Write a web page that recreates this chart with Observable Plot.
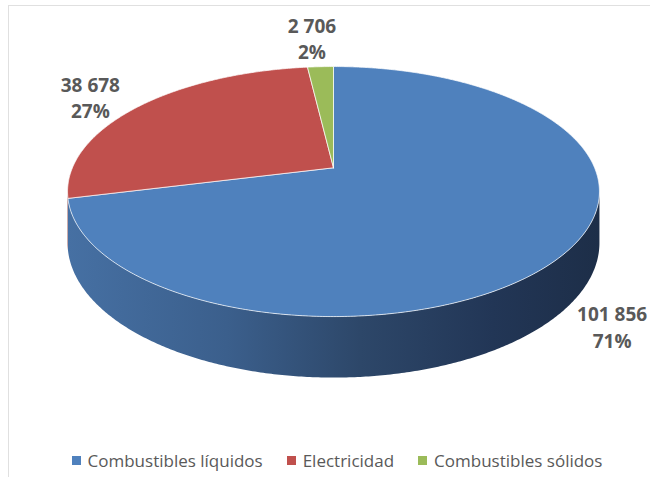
<!DOCTYPE html>
<html><head><meta charset="utf-8">
<script src="https://cdn.jsdelivr.net/npm/d3@7"></script>
<script src="https://cdn.jsdelivr.net/npm/@observablehq/plot@0.6"></script>
<style>
html,body{margin:0;padding:0;background:#fff;overflow:hidden;width:650px;height:477px;}
#frame{position:absolute;left:8px;top:5px;width:700px;height:600px;border-top:1px solid #e0e0e0;border-left:1px solid #e0e0e0;}
#chart{position:absolute;left:0;top:0;}
#legend{position:absolute;left:12px;top:444px;width:650px;}
.lg-swatches{justify-content:center;font-family:"Open Sans",sans-serif !important;font-size:17px !important;color:#595959 !important;margin:0 !important;}
.lg-swatch{margin-right:24px !important;}
.lg-swatch:last-child{margin-right:0 !important;}
.lg-swatch > svg{margin-right:7px !important;}
</style></head><body>
<div id="frame"></div>
<div id="chart"></div>
<div id="legend"></div>
<script>
// ---- data ----
const categories = ["Combustibles líquidos", "Electricidad", "Combustibles sólidos"];
const values = [101856, 38678, 2706];
const colors = ["#4f81bd", "#c0504d", "#9bbb59"];

// ---- layout (3D pie projection) ----
const W = 650, H = 440;
const CX = 333, CY = 167.3, R = 261.1, RY = 120.5;
const P = 0.19;           // perspective strength
const DEPTH = 0.41;       // side height in y units
const sc = v => 1 / (1 + P * v);
const proj = (u, v) => ({x: u * sc(v), y: -v * sc(v)});

const total = d3.sum(values);
const arcs = d3.pie().sort(null).value(d => d)(values);
const step = Math.PI / 360;

function arcPts(a0, a1, r, drop) {
  const pts = [];
  const n = Math.max(2, Math.ceil(Math.abs(a1 - a0) / step));
  for (let i = 0; i <= n; i++) {
    const t = a0 + (a1 - a0) * i / n;
    const u = r * Math.sin(t), v = r * Math.cos(t);
    const p = proj(u, v);
    if (drop) p.y += DEPTH * sc(v);
    pts.push(p);
  }
  return pts;
}

const thL = Math.acos(-P), thR = 2 * Math.PI - Math.acos(-P);
const sideFills = ["url(#sideBlue)", "#8a3836", "#5f7a32"];

const sides = [], tops = [];
arcs.forEach((a, i) => {
  const s0 = Math.max(a.startAngle, thL), s1 = Math.min(a.endAngle, thR);
  if (s1 > s0) {
    sides.push({fill: sideFills[i], pts: [...arcPts(s0, s1, 1, false), ...arcPts(s1, s0, 1, true)]});
  }
  tops.push({fill: colors[i], pts: [{x: 0, y: 0}, ...arcPts(a.startAngle, a.endAngle, 1, false), {x: 0, y: 0}]});
});

// ---- data labels (outside end, pixel layout then converted to scale units) ----
const fmt = d3.formatLocale({decimal: ",", thousands: " ", grouping: [3], currency: ["", ""]}).format(",d");
const pct = d3.format(".0%");
const LCY = 172.3, LR = 263, LRY = 122.2, LP = 0.15, LD = 0.4243;
const lsc = v => 1 / (1 + LP * v);
const labels = arcs.map((a, i) => {
  const t = (a.startAngle + a.endAngle) / 2;
  const u = 1.1 * Math.sin(t), v = 1.1 * Math.cos(t);
  let X = CX + LR * u * lsc(v), Y = LCY - LRY * v * lsc(v);
  if (v < 0) Y += LD * lsc(v) * LRY;
  const c = Math.cos(t), s = Math.sin(t);
  X += Math.sign(s) * Math.sqrt(Math.abs(s)) * 28;
  Y += -c * Math.pow(Math.abs(c), 1.5) * 18 - 2;
  return {x: (X - CX) / R, y: (Y - CY) / RY, text: fmt(values[i]) + "\n" + pct(values[i] / total)};
});

const marks = [];
sides.forEach(s => marks.push(Plot.line(s.pts, {x: "x", y: "y", fill: s.fill, stroke: "none"})));
tops.forEach(s => marks.push(Plot.line(s.pts, {x: "x", y: "y", fill: s.fill, stroke: "#ffffff", strokeOpacity: 0.7, strokeWidth: 1, strokeLinejoin: "round"})));
marks.push(Plot.text(labels, {x: "x", y: "y", text: "text", fontSize: 19, fontWeight: "bold", fill: "#595959", lineHeight: 1.4, fontFamily: "'Open Sans', sans-serif"}));

const chart = Plot.plot({
  width: W, height: H, margin: 0,
  x: {domain: [-1, 1], range: [CX - R, CX + R], axis: null},
  y: {domain: [-1, 1], range: [CY - RY, CY + RY], axis: null},
  style: {background: "transparent", overflow: "visible"},
  marks
});

const defs = d3.select(chart).insert("defs", ":first-child");
const g = defs.append("linearGradient").attr("id", "sideBlue").attr("x1", 0).attr("x2", 1).attr("y1", 0).attr("y2", 0);
[[0, "#4670a3"], [0.3, "#3b5f8c"], [0.55, "#2d4769"], [0.8, "#223656"], [1, "#1d2e48"]]
  .forEach(([o, c]) => g.append("stop").attr("offset", o).attr("stop-color", c));

document.getElementById("chart").appendChild(chart);

const leg = Plot.legend({
  color: {type: "ordinal", domain: categories, range: colors, legend: "swatches"},
  legend: "swatches", swatchSize: 9, className: "lg"
});
document.getElementById("legend").appendChild(leg);
</script>
</body></html>
